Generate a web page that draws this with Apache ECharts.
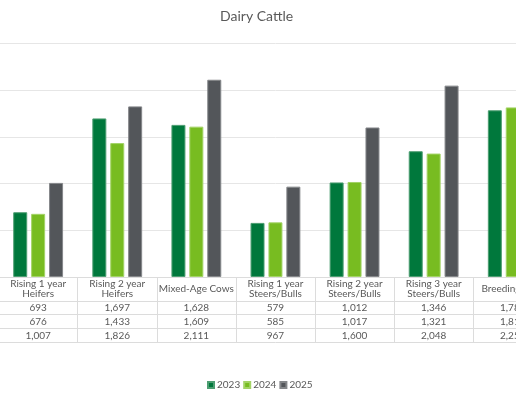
<!DOCTYPE html>
<html>
<head>
<meta charset="utf-8">
<script src="https://cdn.jsdelivr.net/npm/echarts@6/dist/echarts.min.js"></script>
<style>
    html, body { margin: 0; padding: 0; background: #fff; overflow: hidden; }
    #wrap { width: 516px; height: 397px; overflow: hidden; position: relative; }
    #chart { width: 556px; height: 397px; position: absolute; left: -2px; top: 0; }
</style>
</head>
<body>
<div id="wrap"><div id="chart"></div></div>
<script>
var categories = ['Rising 1 year\nHeifers', 'Rising 2 year\nHeifers', 'Mixed-Age Cows',
    'Rising 1 year\nSteers/Bulls', 'Rising 2 year\nSteers/Bulls', 'Rising 3 year\nSteers/Bulls', 'Breeding Bulls'];
var years = ['2023', '2024', '2025'];
var values2023 = [693, 1697, 1628, 579, 1012, 1346, 1784];
var values2024 = [676, 1433, 1609, 585, 1017, 1321, 1815];
var values2025 = [1007, 1826, 2111, 967, 1600, 2048, 2250];
var colors = ['#00783c', '#78bc21', '#53565a'];
var borders = ['#4d9e72', '#a3d366', '#85878a'];

var rows = [values2023, values2024, values2025];
var textColor = '#595959';
var lineColor = '#dcdcdc';
var font = 'Lato';

function fmt(n) {
    return n.toLocaleString('en-US');
}

// x axes: the category header plus one axis per data table row
var xAxes = [{
    type: 'category',
    data: categories,
    axisLine: { lineStyle: { color: lineColor } },
    axisTick: { show: true, length: 65, lineStyle: { color: lineColor } },
    axisLabel: {
        color: textColor, fontSize: 10, fontFamily: font, lineHeight: 10,
        verticalAlign: 'middle', margin: 12, interval: 0
    }
}];
for (var r = 0; r < rows.length; r++) {
    (function (vals, off) {
        xAxes.push({
            type: 'category',
            data: categories,
            position: 'bottom',
            offset: off,
            axisLine: { lineStyle: { color: lineColor } },
            axisTick: { show: false },
            axisLabel: {
                color: textColor, fontSize: 10, fontFamily: font,
                verticalAlign: 'middle', margin: 7, interval: 0,
                formatter: function (v, i) { return fmt(vals[i]); }
            }
        });
    })(rows[r], 24 + r * 13.7);
}
// bottom border of the table
xAxes.push({
    type: 'category',
    data: categories,
    position: 'bottom',
    offset: 64.8,
    axisLine: { lineStyle: { color: lineColor } },
    axisTick: { show: false },
    axisLabel: { show: false }
});

var series = [];
for (var i = 0; i < years.length; i++) {
    series.push({
        name: years[i],
        type: 'bar',
        xAxisIndex: 0,
        data: rows[i],
        barWidth: 14,
        barGap: '28%',
        itemStyle: { color: colors[i], borderColor: borders[i], borderWidth: 1 }
    });
}

var option = {
    animation: false,
    color: colors,
    title: {
        text: 'Dairy Cattle',
        left: 217,
        top: 4,
        textStyle: { color: textColor, fontSize: 14, fontWeight: 'normal', fontFamily: font }
    },
    legend: {
        data: years,
        bottom: 2,
        left: 204,
        icon: 'rect',
        itemWidth: 6,
        itemHeight: 6,
        itemGap: 3,
        textStyle: { color: textColor, fontSize: 10, fontFamily: font, padding: [0, 0, 0, -2] }
    },
    grid: { left: 0.6, right: 1.7, top: 43.4, height: 233.6 },
    xAxis: xAxes,
    yAxis: {
        type: 'value',
        min: 0,
        max: 2500,
        interval: 500,
        axisLabel: { show: false },
        axisLine: { show: false },
        axisTick: { show: false },
        splitLine: { lineStyle: { color: '#e6e6e6' } }
    },
    series: series
};

var myChart = echarts.init(document.getElementById('chart'));
myChart.setOption(option);
</script>
</body>
</html>
